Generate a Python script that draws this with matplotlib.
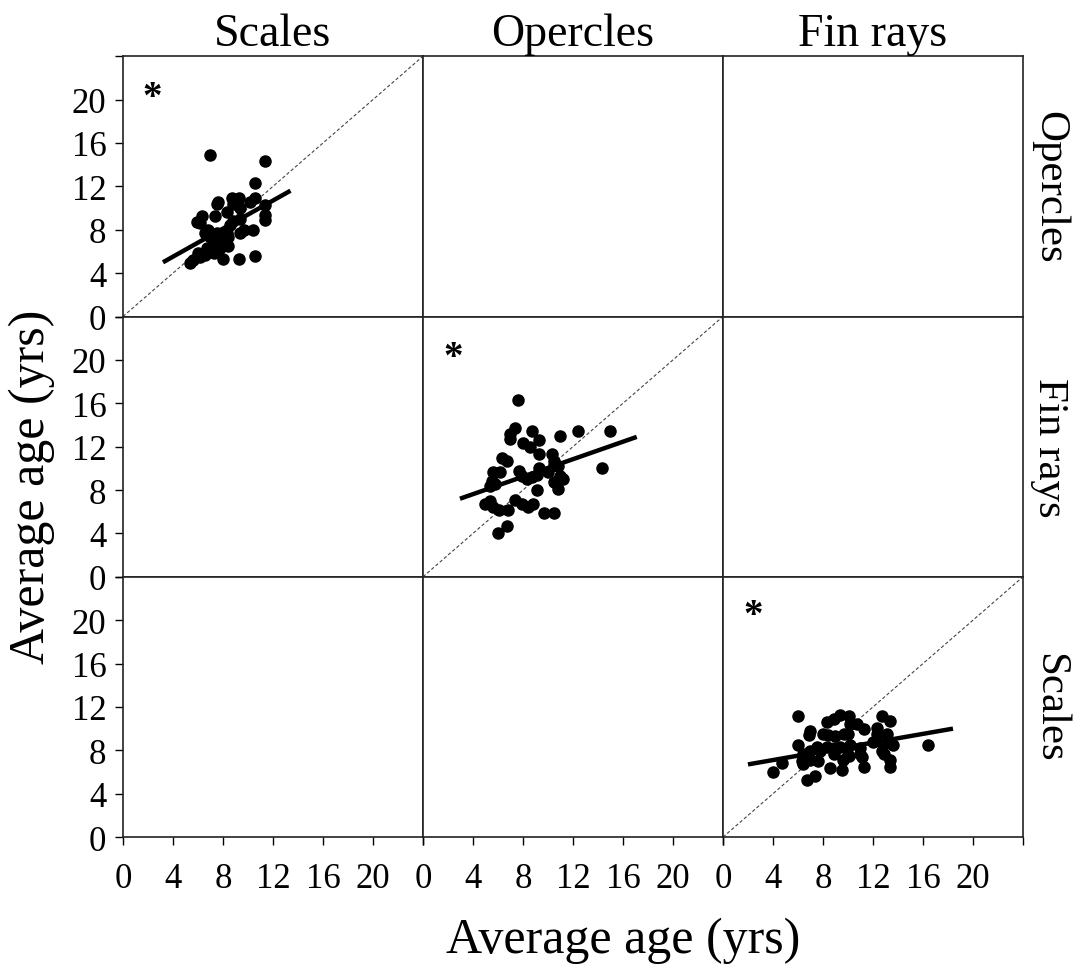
import matplotlib
matplotlib.use("Agg")
import matplotlib.pyplot as plt

plt.rcParams['font.family'] = ['Liberation Serif', 'DejaVu Serif']

# --- данные ---
row_names = ["Opercles", "Fin rays", "Scales"]
col_names = ["Scales", "Opercles", "Fin rays"]

# Scales (x) vs Opercles (y)
sc_op_x = [6.96, 11.36, 10.6, 10.6, 8.7, 9.3, 7.6, 7.5, 8.8, 11.4, 10.2, 9.4, 6.3, 7.4, 8.3,
           11.4, 11.4, 5.9, 6.2, 8.8, 9.4, 8.6, 6.8, 10.4, 9.7, 9.4, 6.6, 7.5, 8.3, 6.9,
           7.9, 8.4, 7.5, 8.2, 7.2, 8.4, 6.7, 7.8, 6.0, 6.6, 7.0, 7.3, 8.0, 9.3, 10.6,
           5.4, 5.6, 6.2]
sc_op_y = [14.9, 14.3, 12.3, 10.9, 10.9, 10.9, 10.6, 10.4, 10.4, 10.3, 10.6, 10.0, 9.3, 9.25, 9.65,
           9.4, 8.9, 8.7, 8.6, 8.8, 9.0, 8.4, 8.0, 8.0, 8.0, 7.7, 7.7, 7.7, 7.7, 7.4,
           7.3, 7.3, 7.0, 7.0, 6.5, 6.5, 6.3, 6.3, 5.9, 5.7, 6.0, 5.9, 5.3, 5.3, 5.6,
           4.9, 5.2, 5.5]
sc_op_fit_x = [3.2, 13.4]
sc_op_fit_y = [5.0, 11.6]

# Opercles (x) vs Fin rays (y)
op_fr_x = [7.6, 7.4, 7.0, 7.0, 8.7, 9.3, 8.0, 8.6, 11.0, 12.4, 15.0, 14.3, 9.3, 10.3, 6.3,
           6.7, 10.5, 10.5, 9.3, 10.8, 5.6, 6.2, 7.7, 11.0, 11.2, 7.9, 8.7, 8.3, 9.1, 10.0,
           5.5, 5.4, 5.8, 10.5, 10.8, 9.1, 5.4, 7.4, 7.9, 8.4, 8.8, 5.0, 5.6, 6.1, 6.8,
           9.7, 10.5, 6.7, 6.0]
op_fr_y = [16.3, 13.7, 13.2, 12.7, 13.4, 12.65, 12.35, 12.0, 13.0, 13.4, 13.4, 10.0, 11.3, 11.3, 11.0,
           10.7, 10.7, 10.3, 10.0, 10.2, 9.7, 9.7, 9.8, 9.3, 9.0, 9.3, 9.2, 9.0, 9.4, 9.7,
           8.8, 8.4, 8.6, 8.7, 8.1, 8.0, 7.0, 7.1, 6.7, 6.4, 6.7, 6.7, 6.4, 6.2, 6.2,
           5.9, 5.9, 4.7, 4.0]
op_fr_fit_x = [2.96, 17.1]
op_fr_fit_y = [7.2, 12.9]

# Fin rays (x) vs Scales (y)
fr_sc_x = [6.0, 9.4, 10.1, 12.7, 8.3, 8.9, 13.4, 10.2, 10.7, 11.3, 12.3, 7.0, 6.9, 8.0, 8.4,
           9.7, 10.0, 9.0, 12.3, 13.1, 6.0, 7.5, 8.3, 9.0, 9.4, 10.2, 11.0, 12.0, 12.8, 13.6,
           16.4, 6.4, 7.0, 7.8, 8.9, 10.0, 11.0, 12.7, 6.3, 7.0, 7.6, 9.6, 10.1, 13.4, 11.1,
           12.9, 4.7, 4.0, 6.4, 8.6, 9.5, 11.3, 13.4, 6.7, 7.4]
fr_sc_y = [11.2, 11.3, 11.2, 11.2, 10.6, 10.9, 10.7, 10.4, 10.4, 10.0, 10.1, 9.8, 9.4, 9.5, 9.4,
           9.5, 9.5, 9.3, 9.5, 9.5, 8.5, 8.3, 8.3, 8.2, 8.3, 8.5, 8.2, 8.8, 8.6, 8.5,
           8.5, 7.7, 7.9, 7.9, 7.7, 7.6, 7.7, 7.9, 7.0, 7.1, 7.0, 7.1, 7.5, 7.1, 7.4,
           7.7, 6.8, 6.0, 6.7, 6.4, 6.2, 6.5, 6.5, 5.3, 5.6]
fr_sc_fit_x = [2.0, 18.4]
fr_sc_fit_y = [6.7, 10.0]

star_pos = [(2.3, 20.2), (2.4, 20.2), (2.4, 20.4)]

ticks = [0, 4, 8, 12, 16, 20, 24]
tick_labels = ["0", "4", "8", "12", "16", "20", ""]

# --- графика ---
fig, axes = plt.subplots(3, 3, figsize=(10.74, 9.70), dpi=100)
fig.subplots_adjust(left=0.1145, right=0.9525, bottom=0.136, top=0.941,
                    wspace=0, hspace=0)

panels = {
    (0, 0): (sc_op_x, sc_op_y, sc_op_fit_x, sc_op_fit_y),
    (1, 1): (op_fr_x, op_fr_y, op_fr_fit_x, op_fr_fit_y),
    (2, 2): (fr_sc_x, fr_sc_y, fr_sc_fit_x, fr_sc_fit_y),
}

for r in range(3):
    for c in range(3):
        ax = axes[r, c]
        ax.set_xlim(0, 24)
        ax.set_ylim(0, 24)
        for s in ax.spines.values():
            s.set_linewidth(1.2)
            s.set_color("#222222")
        ax.tick_params(direction="out", length=6, width=1.0, labelsize=25, pad=6)
        ax.tick_params(axis="x", pad=12)
        ax.set_xticks(ticks)
        ax.set_yticks(ticks)
        if r == 2:
            ax.set_xticklabels(tick_labels)
        else:
            ax.tick_params(axis="x", bottom=False, labelbottom=False)
        if c == 0:
            ax.set_yticklabels(tick_labels)
        else:
            ax.tick_params(axis="y", left=False, labelleft=False)

        if (r, c) in panels:
            x, y, fx, fy = panels[(r, c)]
            ax.plot([0, 24], [0, 24], color="#444444", lw=0.8, ls=(0, (3, 2)))
            ax.scatter(x, y, s=64, color="black", zorder=3)
            ax.plot(fx, fy, color="black", lw=3.2, solid_capstyle="butt", zorder=4)
            sx, sy = star_pos[r]
            ax.text(sx, sy, "*", fontsize=28, ha="center", va="center",
                    fontweight="bold")

        if r == 0:
            ax.set_title(col_names[c], fontsize=33, pad=8)
        if c == 2:
            ax.text(1.025, 0.5, row_names[r], transform=ax.transAxes, fontsize=31,
                    rotation=-90, ha="left", va="center")

fig.text(0.58, 0.03, "Average age (yrs)", fontsize=36, ha="center", va="center")
fig.text(0.03, 0.498, "Average age (yrs)", fontsize=36, ha="center", va="center",
         rotation=90)

plt.savefig("out.png", dpi=100)
